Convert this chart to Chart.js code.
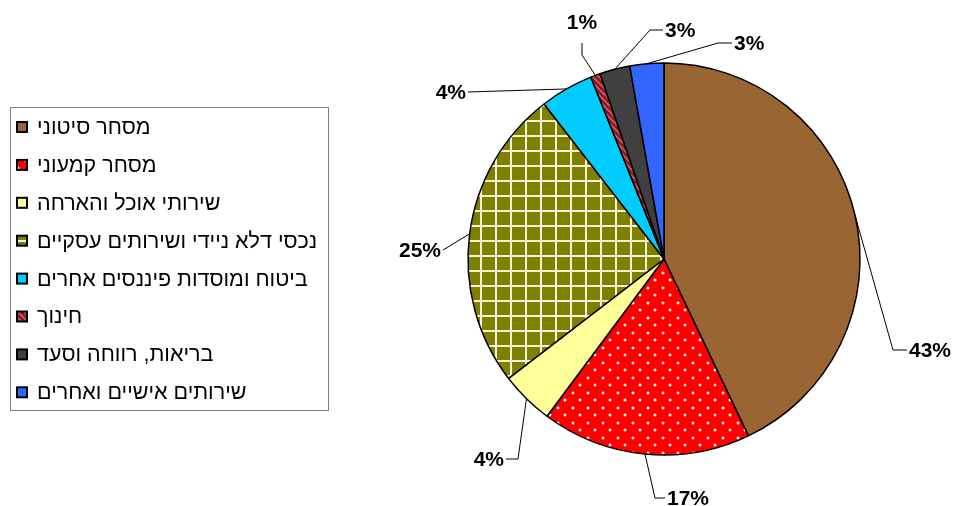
<!DOCTYPE html>
<html lang="he">
<head>
<meta charset="utf-8">
<script src="https://cdn.jsdelivr.net/npm/chart.js@4.4.1/dist/chart.umd.min.js"></script>
<style>
  html, body { margin: 0; padding: 0; background: #fff; }
  #wrap { width: 955px; height: 506px; }
</style>
</head>
<body>
<div id="wrap"><canvas id="pie" width="955" height="506"></canvas></div>
<script>
// ענפי כלכלה — התפלגות באחוזים
const SECTORS = [
  'מסחר סיטוני',
  'מסחר קמעוני',
  'שירותי אוכל והארחה',
  'נכסי דלא ניידי ושירותים עסקיים',
  'ביטוח ומוסדות פיננסים אחרים',
  'חינוך',
  'בריאות, רווחה וסעד',
  'שירותים אישיים ואחרים',
];
const SHARES = [43.0, 17.3, 4.4, 25.0, 4.4, 0.8, 2.5, 2.8];
const PCT_LABELS = ['43%', '17%', '4%', '25%', '4%', '1%', '3%', '3%'];

const BASE_COLORS = ['#996633', '#FF0000', '#FFFF99', '#808000', '#00CCFF', '#8B1A22', '#404040', '#3366FF'];
const FILL_KIND = ['solid', 'dots', 'solid', 'grid', 'solid', 'stripes', 'solid', 'solid'];

// leader lines: elbow / end point relative to pie center, text side
const LEADERS = [
  { elbow: [229, 91], end: [243, 91], side: 'right' },
  { elbow: [-9, 239], end: [1, 239], side: 'right' },
  { elbow: [-146, 200], end: [-158, 200], side: 'left' },
  { elbow: [-221, -9], end: [-221, -9], side: 'left' },
  { elbow: [-196, -167], end: [-196, -167], side: 'left' },
  { elbow: [-82, -204], end: [-82, -216], side: 'top' },
  { elbow: [-14, -229], end: [-1, -229], side: 'right' },
  { elbow: [54, -216], end: [68, -216], side: 'right' },
];

function makeFill(kind, color) {
  if (kind === 'solid') return color;
  const c = document.createElement('canvas');
  const g = c.getContext('2d');
  if (kind === 'dots') {
    c.width = 15; c.height = 15;
    g.fillStyle = color; g.fillRect(0, 0, 15, 15);
    g.fillStyle = 'rgba(255,255,255,0.3)';
    g.fillRect(1, 2, 4, 2); g.fillRect(2, 1, 2, 4);
    g.fillRect(8, 9, 4, 2); g.fillRect(9, 8, 2, 4);
    g.fillStyle = '#fff';
    g.fillRect(2, 2, 2, 2); g.fillRect(9, 9, 2, 2);
  } else if (kind === 'grid') {
    c.width = 15; c.height = 15;
    g.fillStyle = color; g.fillRect(0, 0, 15, 15);
    g.fillStyle = '#f2f2d8';
    g.fillRect(0, 0, 15, 2); g.fillRect(0, 0, 2, 15);
  } else if (kind === 'stripes') {
    c.width = 6; c.height = 6;
    g.fillStyle = color; g.fillRect(0, 0, 6, 6);
    g.strokeStyle = '#C8606A'; g.lineWidth = 1.6;
    g.beginPath();
    for (let k = -6; k <= 12; k += 6) { g.moveTo(k, 0); g.lineTo(k + 6, 6); }
    g.stroke();
  }
  return g.createPattern(c, 'repeat');
}

const fills = BASE_COLORS.map((col, i) => makeFill(FILL_KIND[i], col));

const legendBox = {
  id: 'legendBox',
  afterDraw(chart) {
    const ctx = chart.ctx;
    ctx.save();
    ctx.strokeStyle = '#808080';
    ctx.lineWidth = 1;
    ctx.strokeRect(10.5, 107.5, 318, 303);
    ctx.font = '21.5px "Liberation Sans", Arial, sans-serif';
    ctx.textBaseline = 'middle';
    ctx.textAlign = 'left';
    SECTORS.forEach((name, i) => {
      const y = 127 + i * 37.9;
      ctx.fillStyle = fills[i];
      ctx.fillRect(17, y - 5, 10, 10);
      ctx.strokeStyle = '#000';
      ctx.lineWidth = 2;
      ctx.strokeRect(17, y - 5, 10, 10);
      ctx.fillStyle = '#000';
      ctx.fillText(name, 37, y + 1);
    });
    ctx.restore();
  },
};

const pctLabels = {
  id: 'pctLabels',
  afterDatasetsDraw(chart) {
    const ctx = chart.ctx;
    const meta = chart.getDatasetMeta(0);
    ctx.save();
    ctx.font = 'bold 21px "Liberation Sans", Arial, sans-serif';
    ctx.textBaseline = 'middle';
    meta.data.forEach((arc, i) => {
      const p = arc.getProps(['x', 'y', 'startAngle', 'endAngle', 'outerRadius'], true);
      const mid = (p.startAngle + p.endAngle) / 2;
      const sx = p.x + Math.cos(mid) * p.outerRadius;
      const sy = p.y + Math.sin(mid) * p.outerRadius;
      const L = LEADERS[i];
      const ex = p.x + L.elbow[0], ey = p.y + L.elbow[1];
      const tx = p.x + L.end[0], ty = p.y + L.end[1];
      ctx.strokeStyle = '#000';
      ctx.lineWidth = 1;
      ctx.beginPath();
      ctx.moveTo(sx, sy);
      ctx.lineTo(ex, ey);
      ctx.lineTo(tx, ty);
      ctx.stroke();
      ctx.fillStyle = '#000';
      if (L.side === 'right') {
        ctx.textAlign = 'left';
        ctx.fillText(PCT_LABELS[i], tx + 2, ty + 1);
      } else if (L.side === 'left') {
        ctx.textAlign = 'right';
        ctx.fillText(PCT_LABELS[i], tx - 2, ty + 1);
      } else {
        ctx.textAlign = 'center';
        ctx.fillText(PCT_LABELS[i], tx, ty - 20);
      }
    });
    ctx.restore();
  },
};

new Chart(document.getElementById('pie'), {
  type: 'pie',
  data: {
    labels: SECTORS,
    datasets: [{
      data: SHARES,
      backgroundColor: fills,
      borderColor: '#000',
      borderWidth: 1.5,
      radius: 196,
    }],
  },
  options: {
    responsive: false,
    animation: false,
    layout: { padding: { left: 466, right: 93, top: 61, bottom: 49 } },
    plugins: {
      legend: { display: false },
      tooltip: { enabled: false },
    },
  },
  plugins: [pctLabels, legendBox],
});
</script>
</body>
</html>
